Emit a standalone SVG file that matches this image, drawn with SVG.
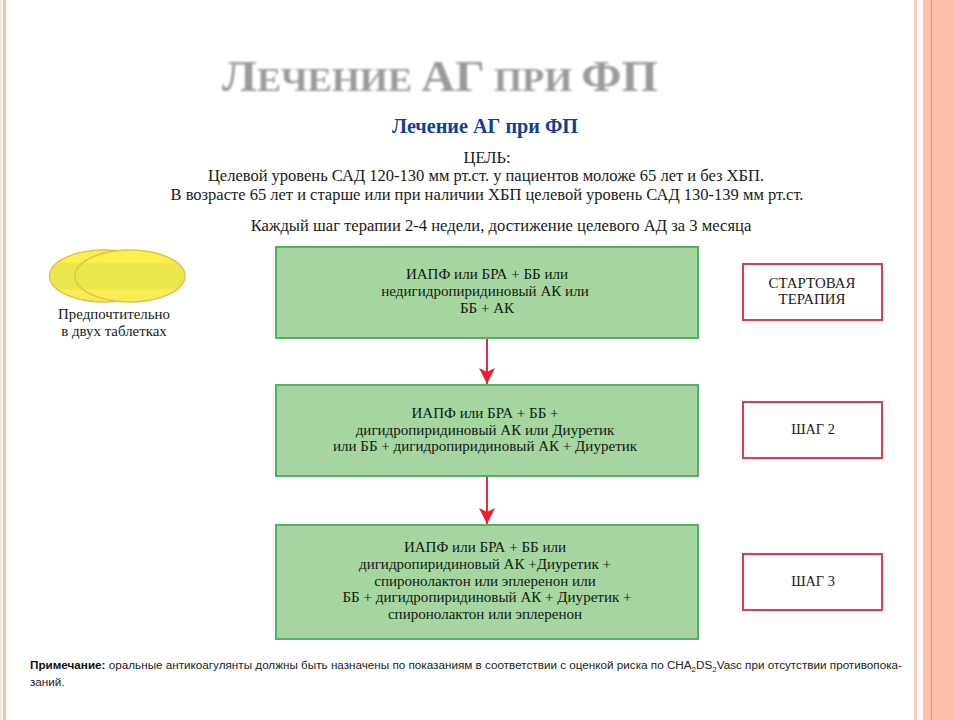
<svg xmlns="http://www.w3.org/2000/svg" width="955" height="720" viewBox="0 0 955 720">
<style>
text{font-family:"Liberation Serif","Times New Roman",serif;fill:#1a1a1a;text-anchor:middle}
.b{font-size:16.5px}
.g{font-size:15.05px;fill:#10200f}
.s{font-size:14.9px}
.t{font-size:14.3px}
.box{fill:#a6d5a2;stroke:#52b163;stroke-width:2}
.lab{fill:#fff;stroke:#e03a4e;stroke-width:2}
.n{font-family:"Liberation Sans",Arial,sans-serif;font-size:11.7px;text-anchor:start;fill:#222}
.tab{stroke:#d6c445;stroke-width:1.3;fill:url(#pill)}
.c{stroke:#e0313f;stroke-width:2;fill:none}
</style>
<defs>
<marker id="ah" markerUnits="userSpaceOnUse" markerWidth="18" markerHeight="16" refX="16" refY="8" orient="auto"><path d="M0 0L16 8L0 16L4 8Z" fill="#ee1c2e"/></marker>
<filter id="blur" x="-5%" y="-20%" width="110%" height="140%"><feGaussianBlur stdDeviation="0.9"/></filter>
<linearGradient id="pill" x1="0" y1="0" x2="0" y2="1"><stop offset="0" stop-color="#fbef4e"/><stop offset=".22" stop-color="#fbef4e"/><stop offset=".28" stop-color="#e8e64a"/><stop offset=".72" stop-color="#e8e64a"/><stop offset=".78" stop-color="#f9ec52"/><stop offset="1" stop-color="#f9ec52"/></linearGradient>
</defs>
<rect width="955" height="720" fill="#fff"/>
<g id="decor">
<rect x="0" y="0" width="1" height="720" fill="#f8dcc8"/>
<rect x="3" y="0" width="3" height="720" fill="#fdbfa8"/>
<rect x="914" y="0" width="3" height="720" fill="#fdcbb8"/>
<rect x="923" y="0" width="32" height="720" fill="#fdbfa6"/>
<rect x="931" y="0" width="1" height="720" fill="#ef9a3e"/>
</g>
<g id="title" filter="url(#blur)">
<text x="440" y="91" font-weight="700" font-size="44" style="fill:#9a9a9a" textLength="436" lengthAdjust="spacingAndGlyphs">Л<tspan font-size="34">ЕЧЕНИЕ </tspan>АГ<tspan font-size="34"> ПРИ </tspan>ФП</text>
</g>
<g id="heading">
<text x="485" y="133" font-weight="700" font-size="20.2" style="fill:#123f96">Лечение АГ при ФП</text>
<text class="b" x="487" y="163">ЦЕЛЬ:</text>
<text class="b" x="486" y="181">Целевой уровень САД 120-130 мм рт.ст. у пациентов моложе 65 лет и без ХБП.</text>
<text class="b" x="487" y="200">В возрасте 65 лет и старше или при наличии ХБП целевой уровень САД 130-139 мм рт.ст.</text>
<text class="b" x="501" y="231" style="font-size:16.6px">Каждый шаг терапии 2-4 недели, достижение целевого АД за 3 месяца</text>
</g>
<g id="pills">
<ellipse class="tab" cx="104" cy="276" rx="54.5" ry="26"/>
<ellipse class="tab" cx="130" cy="276" rx="55" ry="26"/>
<text class="s" x="114" y="319">Предпочтительно</text>
<text class="s" x="114" y="336">в двух таблетках</text>
</g>
<g id="connectors">
<line class="c" x1="487" y1="339" x2="487" y2="384" marker-end="url(#ah)"/>
<line class="c" x1="487" y1="476" x2="487" y2="524" marker-end="url(#ah)"/>
</g>
<g id="step1">
<rect class="box" x="276" y="247" width="422" height="91"/>
<text class="g" x="487" y="279">ИАПФ или БРА + ББ или</text>
<text class="g" x="485" y="296">недигидропиридиновый АК или</text>
<text class="g" x="487" y="313">ББ + АК</text>
</g>
<g id="step2">
<rect class="box" x="276" y="385" width="422" height="91"/>
<text class="g" x="485" y="418">ИАПФ или БРА + ББ +</text>
<text class="g" x="485" y="435">дигидропиридиновый АК или Диуретик</text>
<text class="g" x="485" y="451">или ББ + дигидропиридиновый АК + Диуретик</text>
</g>
<g id="step3">
<rect class="box" x="276" y="525" width="422" height="114"/>
<text class="g" x="485" y="552">ИАПФ или БРА + ББ или</text>
<text class="g" x="485" y="569">дигидропиридиновый АК +Диуретик +</text>
<text class="g" x="485" y="586">спиронолактон или эплеренон или</text>
<text class="g" x="487" y="602">ББ + дигидропиридиновый АК + Диуретик +</text>
<text class="g" x="485" y="619">спиронолактон или эплеренон</text>
</g>
<g id="label1">
<rect class="lab" x="743" y="264" width="139" height="56"/>
<text class="s" x="812" y="288">СТАРТОВАЯ</text>
<text class="s" x="812" y="304">ТЕРАПИЯ</text>
</g>
<g id="label2">
<rect class="lab" x="743" y="402" width="139" height="56"/>
<text class="t" x="813" y="434">ШАГ 2</text>
</g>
<g id="label3">
<rect class="lab" x="743" y="554" width="139" height="56"/>
<text class="t" x="813" y="586">ШАГ 3</text>
</g>
<g id="note">
<text class="n" x="30" y="669"><tspan font-weight="700" style="fill:#111">Примечание:</tspan> оральные антикоагулянты должны быть назначены по показаниям в соответствии с оценкой риска по CHA<tspan font-size="8" dy="3">2</tspan><tspan dy="-3">DS</tspan><tspan font-size="8" dy="3">2</tspan><tspan dy="-3">Vasc при отсутствии противопока-</tspan></text>
<text class="n" x="30" y="686">заний.</text>
</g>
</svg>
